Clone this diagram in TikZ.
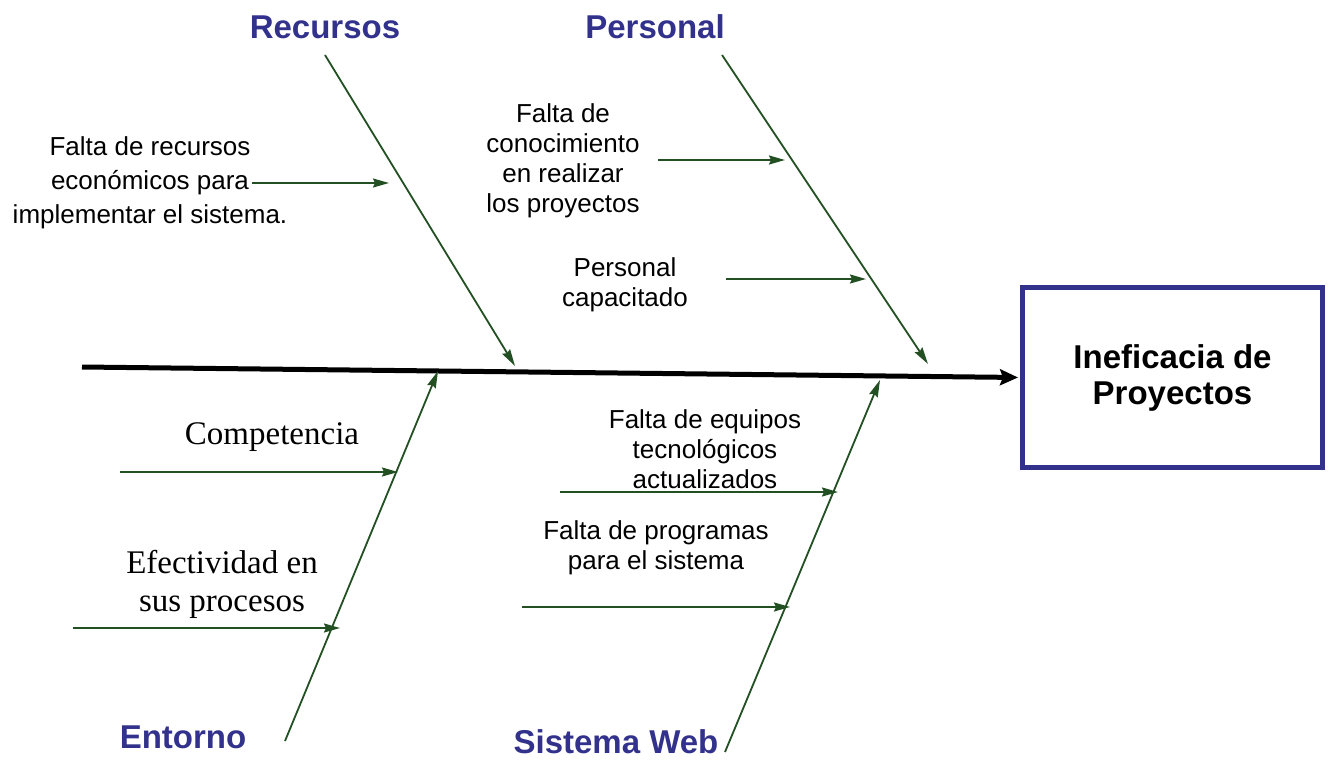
\documentclass[tikz,border=0pt]{standalone}
\usepackage{fontspec}
\setmainfont{Liberation Sans}
\newfontfamily\timesfont{Liberation Serif}
\usetikzlibrary{arrows.meta}
\definecolor{bonegreen}{RGB}{35,80,35}
\definecolor{catblue}{RGB}{50,50,140}
\tikzset{
  spine/.style={line width=5pt, -{Stealth[length=18pt,width=16pt,inset=3pt]}},
  bone/.style={draw=bonegreen, line width=1.8pt, -{Stealth[length=17pt,width=9pt,inset=2pt]}},
  twig/.style={draw=bonegreen, line width=1.8pt, -{Stealth[length=16pt,width=9pt,inset=2pt]}},
  cat/.style={font=\bfseries\fontsize{33}{36}\selectfont, text=catblue, inner sep=0pt},
  cause/.style={font=\fontsize{26}{30}\selectfont, align=center, inner sep=0pt},
  causetm/.style={font=\timesfont\fontsize{33}{38}\selectfont, align=center, inner sep=0pt},
  effect/.style={draw=catblue, line width=5pt, minimum width=300pt, minimum height=180pt,
    font=\bfseries\fontsize{33}{36}\selectfont, align=center}
}
\begin{document}
\begin{tikzpicture}[x=1pt,y=-1pt]
\useasboundingbox (0,0) rectangle (1330,760);
\node[effect] (efecto) at (1172.5,377.5) {Ineficacia de\\Proyectos};
\coordinate (cola) at (82,367);
\draw[spine, shorten >=2pt] (cola) -- (efecto.west);

\node[cat] (recursos) at (325,27) {Recursos};
\node[cat] (personal) at (655,27) {Personal};
\node[cat] (entorno) at (183,737) {Entorno};
\node[cat] (sistema) at (616,742) {Sistema Web};

\coordinate (rec0) at (325,55);  \coordinate (rec1) at (515,366);
\coordinate (per0) at (722,55);  \coordinate (per1) at (928,364);
\coordinate (ent0) at (285,741); \coordinate (ent1) at (438,371);
\coordinate (sis0) at (725,752); \coordinate (sis1) at (880,380);
\draw[bone] (rec0) -- (rec1);
\draw[bone] (per0) -- (per1);
\draw[bone] (ent0) -- (ent1);
\draw[bone] (sis0) -- (sis1);

\node[cause, font=\fontsize{26}{34}\selectfont] (c1) at (150,183) {Falta de recursos\\econ\'omicos para\\implementar el sistema.};
\node[cause] (c2) at (563,161) {Falta de\\conocimiento\\en realizar\\los proyectos};
\node[cause] (c3) at (625,285) {Personal\\capacitado};
\node[causetm] (c4) at (272,437) {Competencia};
\node[causetm] (c5) at (222,584) {Efectividad en\\sus procesos};
\node[cause] (c6) at (705,449) {Falta de equipos\\tecnol\'ogicos\\actualizados};
\node[cause] (c7) at (656,548) {Falta de programas\\para el sistema};

\coordinate (a1) at (252,183); \coordinate (b1) at (389,183);
\coordinate (a2) at (658,160); \coordinate (b2) at (785,160);
\coordinate (a3) at (726,279); \coordinate (b3) at (866,279);
\coordinate (a4) at (120,472); \coordinate (b4) at (398,472);
\coordinate (a5) at (73,628);  \coordinate (b5) at (340,628);
\coordinate (a6) at (560,492); \coordinate (b6) at (838,492);
\coordinate (a7) at (522,607); \coordinate (b7) at (790,607);
\foreach \i in {1,...,7}
  \draw[twig] (a\i) -- (b\i);
\end{tikzpicture}
\end{document}
